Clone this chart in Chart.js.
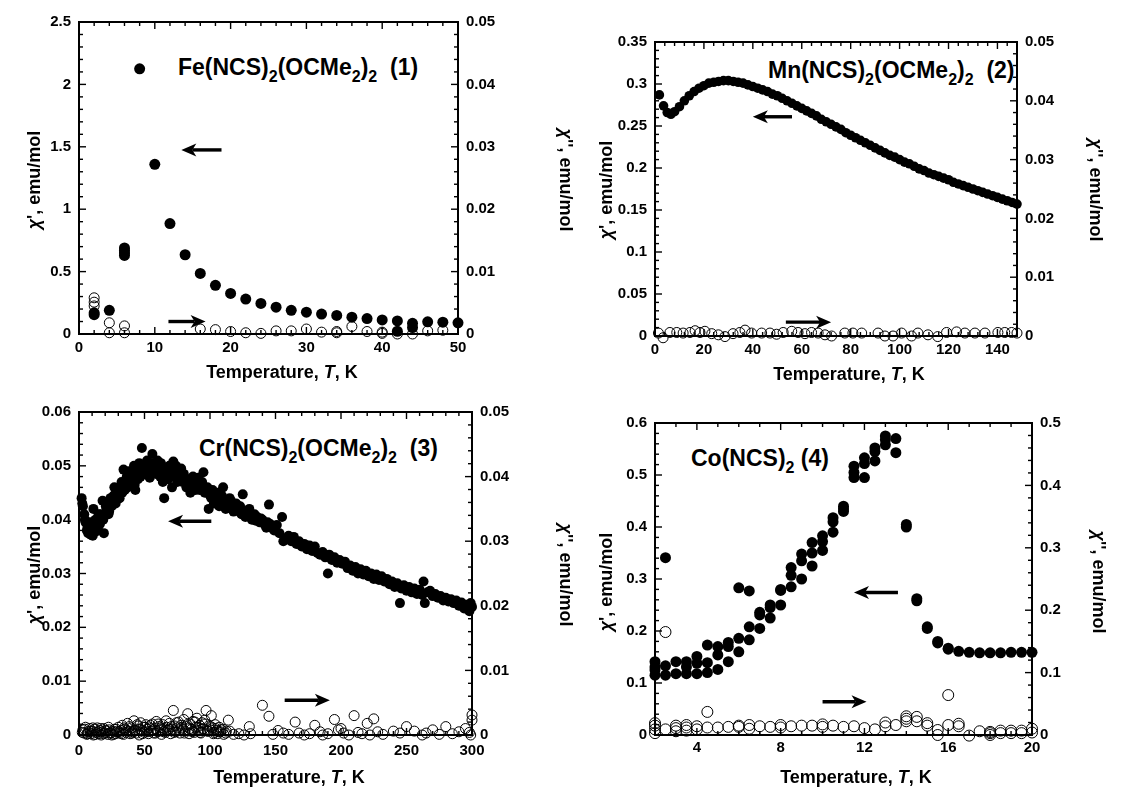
<!DOCTYPE html>
<html><head><meta charset="utf-8">
<script src="https://cdn.jsdelivr.net/npm/chart.js@4.4.1/dist/chart.umd.min.js"></script>
<style>
body{margin:0;background:#fff;width:1136px;height:789px;overflow:hidden;position:relative;font-family:"Liberation Sans",Arial,sans-serif;}
canvas{position:absolute;}
.lbl{position:absolute;font-weight:bold;font-size:23px;white-space:nowrap;line-height:24px;color:#000;font-family:"Liberation Sans",Arial,sans-serif;}
.lbl sub{font-size:16px;vertical-align:-7px;line-height:0;}
</style></head><body>
<div class="lbl" id="l1" style="left:178px;top:55px;">Fe(NCS)<sub>2</sub>(OCMe<sub>2</sub>)<sub>2</sub>&nbsp;&nbsp;(1)</div>
<div class="lbl" id="l2" style="left:768px;top:58px;">Mn(NCS)<sub>2</sub>(OCMe<sub>2</sub>)<sub>2</sub>&nbsp;&nbsp;(2)</div>
<div class="lbl" id="l3" style="left:199px;top:436px;">Cr(NCS)<sub>2</sub>(OCMe<sub>2</sub>)<sub>2</sub>&nbsp;&nbsp;(3)</div>
<div class="lbl" id="l4" style="left:691px;top:446px;">Co(NCS)<sub>2</sub> (4)</div>
<script>
// ---------- Panel 1: Fe(NCS)2(OCMe2)2 ----------
const feT = [2,2,4,6,6,6,6,8,10,12,14,16,18,20,22,24,26,28,30,32,34,36,38,40,42,42,44,44,46,48,50];
const feChiP = [0.155,0.17,0.19,0.63,0.65,0.67,0.69,2.125,1.36,0.885,0.635,0.485,0.39,0.325,0.28,0.245,0.215,0.19,0.175,0.16,0.149,0.135,0.124,0.113,0.105,0.022,0.086,0.052,0.098,0.095,0.09];
const feT2 = [2,2,2,4,4,6,6,16,18,20,22,24,26,28,30,32,34,34,36,38,40,40,42,44,46,48];
const feChiPP = [0.0058,0.0051,0.0045,0.0018,0.0002,0.0013,0.0002,0.0008,0.0007,0.0004,0.0002,0.0001,0.0005,0.0005,0.0008,0.0003,0.0002,0.0004,0.0012,0.0004,0.0003,0.0001,0.0,0.0,0.0005,0.0006];

// ---------- Panel 2: Mn(NCS)2(OCMe2)2 ----------
const mnT = [1.8,3.5,5,6.5,8,10,12,14,16,18,20,22,24,26,28,30,32,34,36,38,40,42,44,46,48,50,52,54,56,58,60,62,64,66,68,70,72,74,76,78,80,82,84,86,88,90,92,94,96,98,100,102,104,106,108,110,112,114,116,118,120,122,124,126,128,130,132,134,136,138,140,142,144,146,148];
const mnChiP = [0.287,0.274,0.266,0.264,0.267,0.273,0.280,0.286,0.291,0.295,0.298,0.301,0.302,0.303,0.304,0.304,0.303,0.302,0.301,0.299,0.297,0.295,0.293,0.291,0.288,0.286,0.283,0.280,0.277,0.274,0.271,0.268,0.265,0.262,0.258,0.255,0.252,0.249,0.246,0.242,0.239,0.236,0.233,0.230,0.227,0.224,0.221,0.218,0.215,0.213,0.210,0.207,0.205,0.202,0.199,0.197,0.194,0.192,0.190,0.188,0.186,0.183,0.181,0.179,0.177,0.175,0.173,0.171,0.169,0.167,0.165,0.163,0.161,0.159,0.157];
const mnT2 = [1.4,3.3,6.1,8.9,11.5,14.3,16.4,18.4,20.4,23.2,25.9,28.6,31.9,34.7,36.8,39.5,43.6,47,49.7,52.4,55.9,58.5,61.3,64,66.7,69.5,72.2,77.6,80.9,84.5,91.2,94,97.3,100.8,104.9,107.5,111.6,115.6,119.2,123.3,126.7,130.8,134.9,140.2,143,145.8,148];
const mnChiPP = [0.0005,-0.0003,0.0006,0.0006,0.0005,0.0006,0.0009,0.0006,0.0008,0.0004,0.0002,-0.0001,0.0004,0.0006,0.0010,0.0005,0.0005,0.0005,0.0003,0.0006,0.0008,0.0006,0.0004,0.0006,0.0005,0.0002,0.0,0.0005,0.0005,0.0005,0.0005,0.0,0.0,0.0005,0.0,0.0005,0.0002,-0.0001,0.0006,0.0007,0.0005,0.0005,0.0005,0.0006,0.0006,0.0006,0.0005];

// ---------- Panel 3: Cr(NCS)2(OCMe2)2 ----------
const crT = [2,3,4,5,6,7,8,9,10,11,12,13,14,15,16,17,18,19,20,21,22,23,24,25,26,27,28,29,30,31,32,33,34,35,36,37,38,39,40,41,42,43,44,45,46,47,48,49,50,51,52,53,54,55,56,57,58,59,60,61,62,63,64,65,66,67,68,69,70,71,72,73,74,75,76,77,78,79,80,82,84,85,86,88,90,91,92,94,95,96,98,99,100,102,103,104,106,107,108,110,111,112,114,115,117,118,120,122,124,125,126,128,130,132,134,136,138,140,142,144,145,147,149,151,153,155,156,158,160,162,164,166,168,170,172,174,176,178,180,182,184,186,188,190,191,193,195,197,199,201,203,205,207,209,211,213,215,217,219,221,223,225,227,229,231,233,235,237,239,241,243,245,246,248,250,252,254,256,258,260,262,263,264,266,268,270,272,274,276,278,280,282,284,286,288,290,292,294,296,298,300,299,
  2.5,4.5,6.5,8.5,10.5,12.5,14.5,16.5,18.5,20.5,22.5,24.5,26.5,28.5,30.5,32.5,34.5,36.5,38.5,40.5,42.5,44.5,46.5,48.5,50.5,52.5,54.5,56.5,58.5,60.5,62.5,64.5,66.5,68.5,70.5,72.5,74.5,76.5,78.5,81,83,87,89,93,97,101,105,109,113,116,119,123,127,131,135,139,143,146];
const crChiP = [0.0440,0.0425,0.0410,0.0395,0.0380,0.0375,0.0390,0.0372,0.0380,0.0420,0.0385,0.0378,0.0395,0.0410,0.0392,0.0400,0.0435,0.0375,0.0410,0.0420,0.0428,0.0415,0.0440,0.0425,0.0435,0.0460,0.0430,0.0445,0.0455,0.0440,0.0460,0.0450,0.0493,0.0455,0.0470,0.0460,0.0490,0.0465,0.0478,0.0470,0.0500,0.0455,0.0485,0.0475,0.0505,0.0480,0.0533,0.0490,0.0500,0.0485,0.0510,0.0495,0.0478,0.0505,0.0522,0.0490,0.0500,0.0485,0.0510,0.0495,0.0480,0.0500,0.0470,0.0440,0.0495,0.0485,0.0475,0.0500,0.0490,0.0460,0.0508,0.0485,0.0500,0.0470,0.0490,0.0480,0.0495,0.0470,0.0485,0.0460,0.0475,0.0450,0.0470,0.0465,0.0460,0.0478,0.0455,0.0470,0.0488,0.0450,0.0460,0.0420,0.0445,0.0455,0.0430,0.0440,0.0450,0.0425,0.0440,0.0460,0.0435,0.0420,0.0430,0.0440,0.0425,0.0415,0.0430,0.0420,0.0410,0.0447,0.0415,0.0410,0.0420,0.0400,0.0410,0.0405,0.0395,0.0400,0.0390,0.0395,0.0428,0.0385,0.0380,0.0390,0.0375,0.0405,0.0360,0.0365,0.0370,0.0360,0.0368,0.0355,0.0360,0.0350,0.0355,0.0345,0.0352,0.0342,0.0350,0.0338,0.0335,0.0340,0.0330,0.0300,0.0335,0.0325,0.0330,0.0320,0.0325,0.0318,0.0322,0.0310,0.0315,0.0305,0.0312,0.0300,0.0308,0.0298,0.0305,0.0295,0.0300,0.0290,0.0298,0.0288,0.0295,0.0285,0.0290,0.0280,0.0285,0.0275,0.0282,0.0245,0.0272,0.0278,0.0268,0.0275,0.0265,0.0272,0.0262,0.0270,0.0260,0.0285,0.0245,0.0265,0.0268,0.0258,0.0262,0.0255,0.0258,0.0250,0.0255,0.0248,0.0252,0.0245,0.0250,0.0240,0.0246,0.0235,0.0242,0.0230,0.0238,0.0245,
  0.0430,0.0400,0.0385,0.0395,0.0370,0.0400,0.0385,0.0410,0.0400,0.0425,0.0410,0.0430,0.0445,0.0450,0.0440,0.0470,0.0465,0.0480,0.0475,0.0490,0.0465,0.0495,0.0490,0.0500,0.0495,0.0488,0.0500,0.0495,0.0492,0.0490,0.0505,0.0488,0.0482,0.0490,0.0480,0.0492,0.0485,0.0478,0.0488,0.0475,0.0468,0.0480,0.0455,0.0462,0.0458,0.0440,0.0435,0.0445,0.0428,0.0435,0.0420,0.0425,0.0405,0.0408,0.0398,0.0402,0.0385,0.0392];
const crT2 = [3,4,5,6,7,8,9,10,11,12,13,14,15,16,17,18,19,20,21,22,23,24,25,26,27,28,29,30,31,32,33,34,35,36,37,38,39,40,41,42,43,44,45,46,47,48,49,50,51,52,53,54,55,56,57,58,59,60,61,62,63,64,65,66,67,68,69,70,71,72,73,74,75,76,77,78,79,80,81,82,83,84,85,86,87,88,89,90,91,92,93,94,95,96,97,98,99,100,101,102,103,104,105,106,107,108,110,112,114,115,118,122,126,130,131,140,145,148,152,156,160,165,168,172,176,180,184,186,190,195,198,200,202,206,210,213,216,220,222,225,228,232,240,245,250,256,262,265,270,275,280,285,290,295,298,300,300,299,
  2.5,4.5,6.5,8.5,10.5,12.5,14.5,16.5,18.5,20.5,22.5,24.5,26.5,28.5,30.5,32.5,34.5,36.5,38.5,40.5,42.5,44.5,46.5,48.5,50.5,52.5,54.5,56.5,58.5,60.5,62.5,64.5,66.5,68.5,70.5,72.5,74.5,76.5,78.5,80.5,82.5,84.5,86.5,88.5,90.5,92.5,94.5,96.5,98.5,100.5,102.5,104.5,106.5,108.5,110.5,112.5];
const crChiPP = [0.0008,0.0003,0.0012,0.0001,0.0005,0.0010,0.0002,0.0006,0.0000,0.0009,0.0004,0.0011,0.0002,0.0007,0.0000,0.0005,0.0010,0.0003,0.0006,0.0001,0.0008,0.0004,0.0000,0.0006,0.0009,0.0002,0.0005,0.0012,0.0003,0.0007,0.0015,0.0001,0.0009,0.0004,0.0018,0.0006,0.0002,0.0011,0.0005,0.0022,0.0008,0.0003,0.0014,0.0000,0.0019,0.0007,0.0012,0.0004,0.0016,0.0009,0.0002,0.0011,0.0006,0.0017,0.0003,0.0010,0.0021,0.0005,0.0013,0.0008,0.0001,0.0016,0.0010,0.0004,0.0012,0.0007,0.0018,0.0002,0.0009,0.0038,0.0014,0.0005,0.0011,0.0020,0.0003,0.0015,0.0008,0.0024,0.0006,0.0013,0.0033,0.0002,0.0017,0.0009,0.0021,0.0004,0.0012,0.0026,0.0007,0.0015,0.0003,0.0019,0.0010,0.0023,0.0038,0.0006,0.0014,0.0008,0.0030,0.0011,0.0004,0.0016,0.0007,0.0002,0.0012,0.0005,0.0009,0.0003,0.0023,0.0006,0.0001,0.0002,0.0000,0.0013,0.0002,0.0046,0.0029,0.0001,0.0007,0.0003,0.0001,0.0020,0.0003,0.0000,0.0002,0.0015,0.0005,0.0000,0.0002,0.0024,0.0008,0.0010,0.0003,0.0000,0.0030,0.0004,0.0002,0.0018,0.0000,0.0025,0.0005,0.0001,0.0006,0.0003,0.0013,0.0006,0.0000,0.0003,0.0008,0.0001,0.0013,0.0002,0.0005,0.0010,0.0004,0.0023,0.0031,0.0000,
  0.0004,0.0009,0.0002,0.0006,0.0011,0.0001,0.0005,0.0010,0.0002,0.0007,0.0012,0.0003,0.0001,0.0009,0.0005,0.0002,0.0011,0.0007,0.0013,0.0003,0.0006,0.0016,0.0009,0.0002,0.0012,0.0005,0.0015,0.0008,0.0003,0.0017,0.0011,0.0005,0.0022,0.0009,0.0013,0.0004,0.0019,0.0008,0.0012,0.0003,0.0016,0.0010,0.0005,0.0020,0.0012,0.0004,0.0009,0.0017,0.0006,0.0013,0.0002,0.0010,0.0005,0.0008,0.0001,0.0006];

// ---------- Panel 4: Co(NCS)2 ----------
const coT = [2,2,2,2,2.5,2.5,2.5,3,3,3.5,3.5,3.5,4,4,4,4.5,4.5,4.5,5,5,5,5.5,5.5,5.5,6,6,6,6.5,6.5,6.5,7,7,7,7.5,7.5,7.5,8,8,8,8.5,8.5,8.5,9,9,9,9.5,9.5,9.5,10,10,10,10.5,10.5,10.5,11,11,11,11.5,11.5,11.5,12,12,12,12.5,12.5,12.5,13,13,13,13.5,13.5,14,14,14.5,14.5,15,15,15.5,15.5,16,16,16.5,17,17.5,18,18.5,19,19.5,20];
const coChiP = [0.141,0.131,0.125,0.115,0.341,0.133,0.115,0.141,0.118,0.141,0.131,0.118,0.151,0.138,0.118,0.173,0.139,0.120,0.170,0.154,0.126,0.178,0.170,0.141,0.283,0.186,0.160,0.277,0.208,0.183,0.236,0.231,0.205,0.250,0.245,0.225,0.280,0.278,0.250,0.322,0.307,0.285,0.348,0.335,0.300,0.370,0.350,0.325,0.383,0.372,0.355,0.418,0.410,0.390,0.440,0.435,0.430,0.517,0.505,0.495,0.533,0.522,0.495,0.552,0.545,0.527,0.575,0.568,0.558,0.570,0.543,0.405,0.400,0.262,0.258,0.208,0.205,0.180,0.177,0.167,0.165,0.161,0.159,0.158,0.158,0.158,0.159,0.159,0.159];
const coT2 = [2,2,2,2,2.5,2.5,3,3,3,3.5,3.5,3.5,4,4,4.5,4.5,5,5.5,6,6,6.5,6.5,7,7.5,8,8,8.5,9,9.5,10,10,10.5,11,11.5,12,12.5,13,13,13.5,14,14,14,14.5,14.5,15,15,15.5,15.5,16,16,16.5,16.5,17,17.5,18,18,18,18.5,18.5,19,19,19.5,19.5,20,20];
const coChiPP = [0.019,0.015,0.009,0.003,0.009,0.165,0.015,0.011,0.006,0.016,0.012,0.007,0.014,0.009,0.037,0.012,0.012,0.013,0.015,0.013,0.016,0.010,0.014,0.013,0.016,0.012,0.014,0.015,0.015,0.017,0.013,0.015,0.013,0.014,0.011,0.009,0.020,0.014,0.016,0.030,0.026,0.022,0.029,0.022,0.019,0.015,0.008,0.000,0.064,0.016,0.018,0.014,-0.001,0.006,0.005,0.003,0.000,0.007,0.003,0.007,0.003,0.007,0.003,0.010,0.004];

// ---------- shared text ----------
const xTitle = [{t:'Temperature, ',i:false},{t:'T',i:true},{t:', K',i:false}];
const yTitle = [{t:'\u03C7',i:true},{t:"', emu/mol",i:false}];
const y2Title = [{t:'\u03C7',i:true},{t:"'', emu/mol",i:false}];

const FONT = '"Liberation Sans", Arial, sans-serif';

const panels = [
 {box:[0,0,600,395], plot:[79,458,22,334], tL:[35,180], tR:[565,180], tB:[282,373], xPad:5, yPad:8,
  x:{min:0,max:50,step:10,minor:2}, y:{min:0,max:2.5,step:0.5,minor:0.1}, y2:{min:0,max:0.05,step:0.01,minor:0.002},
  p:[feT,feChiP], pp:[feT2,feChiPP], rF:5.5, rO:5, stems:false,
  arrows:[[18.8,1.475,13.5,1.475],[11.8,0.10,16.7,0.10]]},
 {box:[560,0,576,395], plot:[655,1017,42,336], tL:[607,190], tR:[1095,190], tB:[849,375], xPad:5, yPad:8,
  x:{min:0,max:148,step:20,minor:4}, y:{min:0,max:0.35,step:0.05,minor:0.01}, y2:{min:0,max:0.05,step:0.01,minor:0.002},
  p:[mnT,mnChiP], pp:[mnT2,mnChiPP], rF:4.8, rO:5, stems:false,
  arrows:[[56,0.261,40,0.261],[53.5,0.0165,72,0.0165]]},
 {box:[0,395,600,394], plot:[79,472,409,735], tL:[35,575], tR:[565,575], tB:[289,778], xPad:7, yPad:8,
  x:{min:0,max:300,step:50,minor:10}, y:{min:0,max:0.06,step:0.01,minor:0.002}, y2:{min:0,max:0.05,step:0.01,minor:0.002},
  p:[crT,crChiP], pp:[crT2,crChiPP], rF:5, rO:5, stems:false,
  arrows:[[101,0.0397,68,0.0397],[157,0.00645,191.5,0.00645]]},
 {box:[560,395,576,394], plot:[655,1032,423,735], tL:[607,582], tR:[1098,582], tB:[856,778], xPad:4, yPad:8,
  x:{min:2,max:20,step:4,minor:1}, y:{min:0,max:0.6,step:0.1,minor:0.02}, y2:{min:0,max:0.5,step:0.1,minor:0.02},
  p:[coT,coChiP], pp:[coT2,coChiPP], rF:5.5, rO:5.5, stems:true,
  arrows:[[13.6,0.274,11.5,0.274],[10,0.064,12.1,0.064]]}
];

function fmt(v){ return String(Number(v.toFixed(4))); }

function drawSegs(ctx, segs, cx, cy, rot, size){
  ctx.save(); ctx.translate(cx,cy); ctx.rotate(rot);
  const fonts = segs.map(s => (s.i?'italic ':'') + 'bold ' + size + 'px ' + FONT);
  let w = 0;
  segs.forEach((s,k)=>{ ctx.font = fonts[k]; w += ctx.measureText(s.t).width; });
  let x = -w/2;
  ctx.textBaseline = 'middle'; ctx.textAlign = 'left'; ctx.fillStyle = '#000';
  segs.forEach((s,k)=>{ ctx.font = fonts[k]; ctx.fillText(s.t, x, 0); x += ctx.measureText(s.t).width; });
  ctx.restore();
}

function drawArrow(ctx, x1, y1, x2, y2){
  const dx = x2-x1, dy = y2-y1, L = Math.hypot(dx,dy), ux = dx/L, uy = dy/L, nx = -uy, ny = ux;
  const hl = 15, hw = 6.5, notch = 4;
  ctx.save(); ctx.strokeStyle='#000'; ctx.fillStyle='#000'; ctx.lineWidth=3.4; ctx.lineCap='butt';
  ctx.beginPath(); ctx.moveTo(x1,y1); ctx.lineTo(x2-ux*(hl-notch), y2-uy*(hl-notch)); ctx.stroke();
  ctx.beginPath();
  ctx.moveTo(x2,y2);
  ctx.lineTo(x2-ux*hl+nx*hw, y2-uy*hl+ny*hw);
  ctx.lineTo(x2-ux*(hl-notch), y2-uy*(hl-notch));
  ctx.lineTo(x2-ux*hl-nx*hw, y2-uy*hl-ny*hw);
  ctx.closePath(); ctx.fill();
  ctx.restore();
}

function panelPlugin(p){
  return {
    id:'panelDeco',
    beforeDatasetsDraw(chart){
      const ctx = chart.ctx, a = chart.chartArea;
      const sx = chart.scales.x, sy = chart.scales.y, s2 = chart.scales.y2;
      ctx.save(); ctx.strokeStyle = '#000'; ctx.lineWidth = 1.4;
      const line = (x1,y1,x2,y2)=>{ ctx.beginPath(); ctx.moveTo(x1,y1); ctx.lineTo(x2,y2); ctx.stroke(); };
      const each = (ax, fn)=>{
        const n = Math.round((ax.max-ax.min)/ax.minor);
        for(let k=0;k<=n;k++){
          const v = ax.min + k*ax.minor;
          const r = v/ax.step;
          fn(v, Math.abs(r-Math.round(r)) < 1e-6);
        }
      };
      const MJ = 7, MN = 4;
      each(p.x, (v,maj)=>{ const px = sx.getPixelForValue(v); const l = maj?MJ:MN;
        line(px,a.bottom,px,a.bottom-l); line(px,a.top,px,a.top+l); });
      each(p.y, (v,maj)=>{ const py = sy.getPixelForValue(v); const l = maj?MJ:MN;
        line(a.left,py,a.left+l,py); });
      each(p.y2, (v,maj)=>{ const py = s2.getPixelForValue(v); const l = maj?MJ:MN;
        line(a.right,py,a.right-l,py); });
      // error-bar stems under the open circles (panel 4)
      if (p.stems){
        ctx.lineWidth = 1.3;
        const seen = {};
        p.pp[0].forEach((t,i)=>{
          const v = p.pp[1][i];
          if (v <= 0.004 || v > 0.02) return;
          if (Math.abs(t-Math.round(t))>1e-6) return;
          if (seen[t] !== undefined && seen[t] <= v) return;
          seen[t] = v;
        });
        Object.keys(seen).forEach(t=>{
          const px = sx.getPixelForValue(+t), py = s2.getPixelForValue(seen[t]);
          line(px, py + p.rO, px, a.bottom);
        });
      }
      ctx.lineWidth = 2;
      ctx.strokeRect(a.left, a.top, a.right-a.left, a.bottom-a.top);
      ctx.restore();
    },
    afterDraw(chart){
      const ctx = chart.ctx;
      const sx = chart.scales.x, sy = chart.scales.y;
      p.arrows.forEach(ar=>{
        drawArrow(ctx, sx.getPixelForValue(ar[0]), sy.getPixelForValue(ar[1]), sx.getPixelForValue(ar[2]), sy.getPixelForValue(ar[3]));
      });
      const bx = p.box[0], by = p.box[1];
      drawSegs(ctx, xTitle, p.tB[0]-bx, p.tB[1]-by, 0, 18);
      drawSegs(ctx, yTitle, p.tL[0]-bx, p.tL[1]-by, -Math.PI/2, 18);
      drawSegs(ctx, y2Title, p.tR[0]-bx, p.tR[1]-by, Math.PI/2, 18);
    }
  };
}

function makePanel(p){
  const cv = document.createElement('canvas');
  const [bx,by,bw,bh] = p.box;
  cv.width = bw; cv.height = bh;
  cv.style.left = bx+'px'; cv.style.top = by+'px';
  cv.style.width = bw+'px'; cv.style.height = bh+'px';
  document.body.appendChild(cv);
  const [L,R,T,B] = p.plot;
  const leftW = L-bx, rightW = bx+bw-R, topPad = T-by, botH = by+bh-B;
  const tickFont = {family:FONT, size:15, weight:'bold'};
  const axisCommon = (o, pad)=>({
    type:'linear', min:o.min, max:o.max,
    grid:{display:false, drawTicks:false}, border:{display:false},
    ticks:{stepSize:o.step, includeBounds:false, autoSkip:false, maxRotation:0, padding:pad, font:tickFont, color:'#000', callback:fmt}
  });
  const xs = Object.assign(axisCommon(p.x, p.xPad), {position:'bottom', afterFit:s=>{s.height=botH;}});
  const ys = Object.assign(axisCommon(p.y, p.yPad), {position:'left', afterFit:s=>{s.width=leftW;}});
  const y2s = Object.assign(axisCommon(p.y2, p.yPad), {position:'right', afterFit:s=>{s.width=rightW;}});
  new Chart(cv, {
    type:'scatter',
    data:{datasets:[
      {data:p.p[0].map((t,i)=>({x:t,y:p.p[1][i]})), yAxisID:'y', pointRadius:p.rF, pointBackgroundColor:'#000', pointBorderWidth:0, clip:false},
      {data:p.pp[0].map((t,i)=>({x:t,y:p.pp[1][i]})), yAxisID:'y2', pointRadius:p.rO, pointBackgroundColor:'rgba(0,0,0,0)', pointBorderColor:'#000', pointBorderWidth:1, clip:false}
    ]},
    options:{
      responsive:false, animation:false, devicePixelRatio:1, events:[],
      layout:{padding:{left:0,right:0,top:topPad,bottom:0}},
      plugins:{legend:{display:false}, tooltip:{enabled:false}, title:{display:false}},
      scales:{x:xs, y:ys, y2:y2s}
    },
    plugins:[panelPlugin(p)]
  });
}
panels.forEach(makePanel);
</script>
</body></html>
